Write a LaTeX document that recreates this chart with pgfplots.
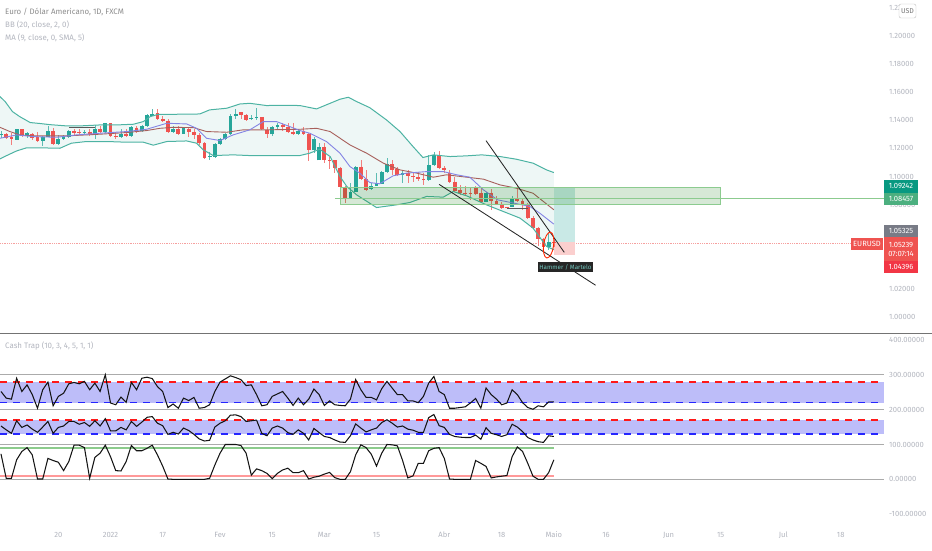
\documentclass[border=0pt]{standalone}
\usepackage{fontspec}
\setmainfont{Fira Sans}
\usepackage{pgfplots}
\usepackage{pgfplotstable}
\pgfplotsset{compat=1.18}

\definecolor{upc}{HTML}{26A69A}
\definecolor{downc}{HTML}{EF5350}
\definecolor{bbline}{HTML}{4DB3A3}
\definecolor{bbfill}{HTML}{EEF7F6}
\definecolor{basis}{HTML}{A8605C}
\definecolor{maline}{HTML}{8484E4}
\definecolor{txt}{HTML}{B2B5BE}
\definecolor{boxgreen}{HTML}{8CCB8F}
\definecolor{bandblue}{HTML}{BDBDF9}
\definecolor{hline}{HTML}{ABABAB}
\definecolor{HTMLteal}{HTML}{089981}
\definecolor{HTMLgreen}{HTML}{4CAF7F}
\definecolor{HTMLgrey}{HTML}{787B86}
\definecolor{HTMLbright}{HTML}{F23645}

% i open high low close
\pgfplotstableread{
i o h l c
0 1.1299 1.1327 1.1272 1.1303
1 1.1301 1.1313 1.1265 1.1277
2 1.1279 1.1308 1.1225 1.1265
3 1.1261 1.1341 1.1261 1.1336
4 1.1336 1.1341 1.1284 1.1291
5 1.1291 1.1320 1.1272 1.1313
6 1.1306 1.1313 1.1261 1.1277
7 1.1282 1.1320 1.1249 1.1256
8 1.1256 1.1289 1.1220 1.1282
9 1.1282 1.1360 1.1282 1.1325
10 1.1325 1.1348 1.1225 1.1232
11 1.1232 1.1294 1.1225 1.1270
12 1.1270 1.1294 1.1261 1.1282
13 1.1282 1.1332 1.1277 1.1322
14 1.1322 1.1341 1.1289 1.1313
15 1.1317 1.1336 1.1294 1.1313
16 1.1313 1.1332 1.1296 1.1320
17 1.1320 1.1336 1.1289 1.1301
18 1.1303 1.1367 1.1268 1.1336
19 1.1339 1.1360 1.1313 1.1317
20 1.1317 1.1384 1.1313 1.1379
21 1.1379 1.1384 1.1284 1.1291
22 1.1291 1.1320 1.1268 1.1279
23 1.1282 1.1336 1.1277 1.1306
24 1.1306 1.1336 1.1284 1.1289
25 1.1289 1.1360 1.1284 1.1355
26 1.1348 1.1360 1.1313 1.1322
27 1.1322 1.1365 1.1317 1.1360
28 1.1360 1.1445 1.1355 1.1436
29 1.1433 1.1479 1.1431 1.1448
30 1.1450 1.1479 1.1403 1.1407
31 1.1410 1.1431 1.1386 1.1396
32 1.1398 1.1407 1.1313 1.1320
33 1.1320 1.1360 1.1313 1.1336
34 1.1341 1.1360 1.1301 1.1306
35 1.1306 1.1351 1.1301 1.1343
36 1.1341 1.1355 1.1284 1.1320
37 1.1320 1.1336 1.1265 1.1296
38 1.1296 1.1308 1.1225 1.1237
39 1.1237 1.1242 1.1130 1.1135
40 1.1142 1.1177 1.1118 1.1147
41 1.1137 1.1237 1.1135 1.1230
42 1.1230 1.1277 1.1223 1.1265
43 1.1265 1.1313 1.1261 1.1299
44 1.1299 1.1443 1.1296 1.1431
45 1.1433 1.1479 1.1407 1.1448
46 1.1457 1.1462 1.1407 1.1436
47 1.1436 1.1445 1.1398 1.1405
48 1.1407 1.1438 1.1403 1.1417
49 1.1417 1.1490 1.1403 1.1422
50 1.1424 1.1426 1.1332 1.1336
51 1.1332 1.1351 1.1277 1.1299
52 1.1299 1.1360 1.1291 1.1353
53 1.1355 1.1379 1.1332 1.1367
54 1.1367 1.1384 1.1327 1.1355
55 1.1355 1.1379 1.1308 1.1315
56 1.1315 1.1384 1.1296 1.1306
57 1.1306 1.1336 1.1296 1.1322
58 1.1327 1.1351 1.1294 1.1299
59 1.1299 1.1308 1.1107 1.1189
60 1.1189 1.1284 1.1166 1.1268
61 1.1114 1.1237 1.1114 1.1213
62 1.1213 1.1237 1.1095 1.1114
63 1.1118 1.1142 1.1054 1.1109
64 1.1114 1.1118 1.1024 1.1061
65 1.1061 1.1066 1.0858 1.0924
66 1.0924 1.0929 1.0810 1.0846
67 1.0846 1.0952 1.0841 1.0893
68 1.0893 1.1076 1.0888 1.1071
69 1.1071 1.1118 1.0976 1.0981
70 1.0981 1.1047 1.0900 1.0907
71 1.0910 1.0952 1.0905 1.0933
72 1.0933 1.1024 1.0929 1.0952
73 1.0950 1.1040 1.0945 1.1031
74 1.1031 1.1130 1.1026 1.1090
75 1.1088 1.1118 1.1012 1.1047
76 1.1054 1.1071 1.1005 1.1012
77 1.1012 1.1047 1.0957 1.1024
78 1.1024 1.1047 1.0957 1.1000
79 1.1005 1.1028 1.0964 1.0995
80 1.0995 1.1035 1.0971 1.0981
81 1.0983 1.1024 1.0940 1.0976
82 1.0976 1.1154 1.0969 1.1083
83 1.1083 1.1175 1.1078 1.1154
84 1.1154 1.1182 1.1059 1.1064
85 1.1064 1.1076 1.1028 1.1045
86 1.1028 1.1047 1.0957 1.0964
87 1.0964 1.0995 1.0893 1.0900
88 1.0903 1.0940 1.0869 1.0886
89 1.0886 1.0929 1.0862 1.0874
90 1.0881 1.0917 1.0834 1.0877
91 1.0917 1.0929 1.0869 1.0877
92 1.0879 1.0917 1.0815 1.0822
93 1.0822 1.0893 1.0815 1.0884
94 1.0884 1.0910 1.0758 1.0827
95 1.0825 1.0858 1.0798 1.0806
96 1.0798 1.0822 1.0768 1.0777
97 1.0782 1.0782 1.0773 1.0777
98 1.0784 1.0858 1.0780 1.0846
99 1.0846 1.0929 1.0825 1.0829
100 1.0827 1.0846 1.0763 1.0796
101 1.0801 1.0810 1.0697 1.0704
102 1.0704 1.0716 1.0626 1.0633
103 1.0633 1.0640 1.0502 1.0554
104 1.0554 1.0561 1.0479 1.0495
105 1.0495 1.0597 1.0479 1.0535
106 1.0535 1.0554 1.0498 1.0526
}\candles

\pgfplotstableread{
i p
-0.2 1.1569
0.8 1.1533
2.2 1.1462
3.6 1.1426
5.6 1.1384
7.5 1.1377
9.4 1.1369
12.6 1.1360
15.1 1.1360
19 1.1367
22.2 1.1367
25.4 1.1372
27.3 1.1391
28.6 1.1426
30.2 1.1443
33.7 1.1443
38.1 1.1445
40 1.1474
43.3 1.1486
45.8 1.1516
47.7 1.1521
50.9 1.1505
54.1 1.1507
57.3 1.1505
60.5 1.1481
63.1 1.1521
65 1.1550
66.6 1.1564
68.2 1.1533
70.7 1.1490
73.9 1.1403
76.5 1.1320
79 1.1213
80.9 1.1135
82.9 1.1154
86.1 1.1142
89.3 1.1147
92.2 1.1154
95.7 1.1142
98.8 1.1123
102 1.1095
104.6 1.1047
106 1.1028
}\bbupper

\pgfplotstableread{
i p
-0.2 1.1125
1.1 1.1149
3 1.1182
4.9 1.1204
7.5 1.1204
11.3 1.1201
13.5 1.1237
16.4 1.1249
20.3 1.1249
24.1 1.1244
27.3 1.1244
29.2 1.1223
31.8 1.1249
35.6 1.1253
37.5 1.1237
38.8 1.1189
40.7 1.1149
44.5 1.1154
47.7 1.1149
50.9 1.1149
57.3 1.1149
59.2 1.1166
61.1 1.1194
63.1 1.1142
65 1.1000
66.3 1.0929
68.2 1.0869
72 1.0779
75.8 1.0798
78.4 1.0815
81.6 1.0858
84.8 1.0853
86.7 1.0893
89.3 1.0862
93.1 1.0798
96.3 1.0751
99.5 1.0704
102 1.0633
104.6 1.0502
106 1.0479
}\bblower

% outline of the band: upper edge forward, lower edge back
\pgfplotstableread{
i p
-0.2 1.1569
0.8 1.1533
2.2 1.1462
3.6 1.1426
5.6 1.1384
7.5 1.1377
9.4 1.1369
12.6 1.1360
15.1 1.1360
19 1.1367
22.2 1.1367
25.4 1.1372
27.3 1.1391
28.6 1.1426
30.2 1.1443
33.7 1.1443
38.1 1.1445
40 1.1474
43.3 1.1486
45.8 1.1516
47.7 1.1521
50.9 1.1505
54.1 1.1507
57.3 1.1505
60.5 1.1481
63.1 1.1521
65 1.1550
66.6 1.1564
68.2 1.1533
70.7 1.1490
73.9 1.1403
76.5 1.1320
79 1.1213
80.9 1.1135
82.9 1.1154
86.1 1.1142
89.3 1.1147
92.2 1.1154
95.7 1.1142
98.8 1.1123
102 1.1095
104.6 1.1047
106 1.1028
106 1.0479
104.6 1.0502
102 1.0633
99.5 1.0704
96.3 1.0751
93.1 1.0798
89.3 1.0862
86.7 1.0893
84.8 1.0853
81.6 1.0858
78.4 1.0815
75.8 1.0798
72 1.0779
68.2 1.0869
66.3 1.0929
65 1.1000
63.1 1.1142
61.1 1.1194
59.2 1.1166
57.3 1.1149
50.9 1.1149
47.7 1.1149
44.5 1.1154
40.7 1.1149
38.8 1.1189
37.5 1.1237
35.6 1.1253
31.8 1.1249
29.2 1.1223
27.3 1.1244
24.1 1.1244
20.3 1.1249
16.4 1.1249
13.5 1.1237
11.3 1.1201
7.5 1.1204
4.9 1.1204
3 1.1182
1.1 1.1149
-0.2 1.1125
}\bbband

\pgfplotstableread{
i p
-0.2 1.1350
1.7 1.1320
3.6 1.1296
6.2 1.1289
12.6 1.1289
19 1.1301
24.1 1.1313
27.9 1.1327
30.5 1.1343
33 1.1350
36.9 1.1348
39.4 1.1320
43.3 1.1315
46.4 1.1332
50.9 1.1332
57.3 1.1336
60.5 1.1343
63.1 1.1320
66.9 1.1225
70.1 1.1166
73.3 1.1095
76.5 1.1047
79.7 1.1024
82.9 1.0995
85.4 1.1012
89.3 1.0995
92.5 1.0981
95.7 1.0940
98.8 1.0917
102 1.0881
106 1.0763
}\bbbasis

\pgfplotstableread{
i p
-0.2 1.1272
3 1.1296
6.2 1.1284
10.7 1.1279
14.5 1.1296
19 1.1308
24.1 1.1320
27.9 1.1336
31.8 1.1379
35.6 1.1374
37.5 1.1343
39.4 1.1272
42 1.1256
44.5 1.1296
47.7 1.1332
50.3 1.1391
52.8 1.1391
55.4 1.1355
57.3 1.1327
59.2 1.1308
62.4 1.1249
65 1.1166
66.9 1.1071
68.8 1.1024
70.7 1.0957
72.6 1.0948
75.2 1.1005
77.8 1.1024
81.6 1.1035
84.8 1.1035
87.4 1.1012
89.9 1.0995
92.5 1.0905
95.2 1.0834
98.4 1.0810
101.4 1.0787
103.3 1.0739
106 1.0661
}\smaline

% Cash Trap, three stacked lines
\pgfplotstableread{
i a b d
0 252 153 73
1 233 142 3
2 230 132 3
3 290 168 56
4 252 149 80
5 271 156 91
6 243 144 70
7 204 135 1
8 257 150 1
9 279 166 60
10 211 132 54
11 238 149 49
12 247 153 25
13 274 166 51
14 278 166 98
15 274 158 98
16 281 163 91
17 257 152 3
18 276 168 63
19 252 153 75
20 300 174 98
21 219 139 65
22 214 139 25
23 236 149 24
24 221 142 51
25 278 166 97
26 257 152 82
27 290 164 82
28 293 178 89
29 289 180 98
30 266 161 70
31 252 154 38
32 206 129 1
33 216 135 0
34 204 130 0
35 233 147 0
36 226 140 0
37 235 129 0
38 204 116 0
39 206 110 0
40 214 112 3
41 252 150 41
42 279 161 75
43 288 168 100
44 297 184 100
45 292 185 100
46 286 180 97
47 269 166 75
48 271 168 12
49 243 170 30
50 211 132 25
51 214 125 17
52 238 147 2
53 245 153 17
54 252 147 27
55 233 134 32
56 212 129 19
57 233 142 19
58 214 132 25
59 230 113 1
60 259 146 6
61 243 134 9
62 212 123 15
63 225 120 20
64 214 113 5
65 212 107 0
66 211 106 0
67 230 125 22
68 286 159 70
69 257 147 99
70 235 136 91
71 235 142 72
72 228 147 38
73 260 163 75
74 281 171 100
75 262 161 99
76 243 150 96
77 243 153 54
78 225 144 4
79 225 141 10
80 220 135 46
81 238 135 46
82 276 177 82
83 295 186 89
84 252 154 91
85 243 149 60
86 204 129 1
87 204 123 0
88 206 121 0
89 208 120 0
90 219 120 0
91 232 127 54
92 204 115 46
93 262 148 37
94 243 132 4
95 230 128 7
96 214 123 9
97 219 128 11
98 257 158 65
99 243 150 93
100 220 137 80
101 206 120 46
102 201 113 9
103 211 108 0
104 208 106 0
105 222 125 19
106 222 123 56
}\cashtrap

\newcommand{\candleplot}[2]{%
  % wick
  \addplot[draw=none, forget plot, unbounded coords=discard,
    error bars/.cd, y dir=both, y explicit, error mark=none,
    error bar style={line width=0.6pt, #1!75!white}]
    table[x expr={#2 ? \thisrow{i} : nan}, y=c,
      y error plus expr={\thisrow{h}-\thisrow{c}},
      y error minus expr={\thisrow{c}-\thisrow{l}}] {\candles};
  % body
  \addplot[draw=none, forget plot, unbounded coords=discard,
    error bars/.cd, y dir=both, y explicit, error mark=none,
    error bar style={line width=3.8pt, #1}]
    table[x expr={#2 ? \thisrow{i} : nan}, y=o,
      y error plus expr={max(\thisrow{c}-\thisrow{o},0)},
      y error minus expr={max(\thisrow{o}-\thisrow{c},0)}] {\candles};
}

\pgfplotsset{
  chartpanel/.style={
    scale only axis, width=884pt, clip=true,
    xmin=-0.19, xmax=169.3,
    axis line style={draw=none}, tick style={draw=none},
    major tick length=0pt,
    yticklabel pos=right,
    y tick label style={anchor=west, inner sep=0pt, xshift=5pt, font=\fontsize{7.6}{8}\selectfont, text=txt},
    x tick label style={anchor=center, inner sep=0pt, font=\fontsize{7.6}{8}\selectfont, text=txt},
    /pgf/number format/fixed, /pgf/number format/fixed zerofill,
    /pgf/number format/precision=5, /pgf/number format/1000 sep={},
    /pgf/number format/assume math mode=true,
  },
}

\begin{document}
\begin{tikzpicture}
\useasboundingbox (0pt,0pt) rectangle (932pt,550pt);

% price panel
\begin{axis}[chartpanel, at={(0pt,217pt)}, anchor=south west, height=333pt,
    ymin=0.98861, ymax=1.22562, xtick=\empty,
    ytick={1.00,1.02,1.08,1.10,1.12,1.14,1.16,1.18,1.20,1.22}]
  \addplot[draw=none, fill=bbfill, forget plot] table[x=i,y=p] {\bbband} --cycle;

  % last price line
  \addplot[densely dotted, color=downc!55!white, line width=0.8pt] coordinates {(-0.19,1.05239) (169.3,1.05239)};

  % position tool
  \addplot[draw=none, fill=upc!25!white] coordinates {(106,1.05325) (110,1.05325) (110,1.09242) (106,1.09242)} --cycle;
  \addplot[draw=none, fill=downc!28!white] coordinates {(106,1.04396) (110,1.04396) (110,1.05325) (106,1.05325)} --cycle;

  \candleplot{upc}{\thisrow{c}>=\thisrow{o}}
  \candleplot{downc}{\thisrow{c}<\thisrow{o}}

  \addplot[bbline, line width=1pt] table[x=i,y=p] {\bbupper};
  \addplot[bbline, line width=1pt] table[x=i,y=p] {\bblower};
  \addplot[basis, line width=0.9pt] table[x=i,y=p] {\bbbasis};
  \addplot[maline, line width=0.9pt] table[x=i,y=p] {\smaline};

  % marked zone
  \addplot[draw=boxgreen, fill=green!45!black, fill opacity=0.16, line width=0.9pt] coordinates {(65,1.0801) (138,1.0801) (138,1.0924) (65,1.0924)} --cycle;
  \addplot[boxgreen, line width=1pt] coordinates {(64,1.08457) (169.3,1.08457)};

  % wedge and short marks
  \addplot[black!85, line width=0.85pt] coordinates {(93,1.1255) (108,1.0460)};
  \addplot[black!85, line width=0.85pt] coordinates {(84,1.0944) (114,1.0226)};
  \addplot[black!65, line width=0.8pt] coordinates {(13,1.1346) (18,1.1346)};
  \addplot[black!65, line width=0.8pt] coordinates {(97,1.0775) (101,1.0775)};

  \draw[red!70!orange, line width=0.9pt] (axis cs:105,1.0512) ellipse [x radius=5pt, y radius=13pt, rotate=-8];
\end{axis}

% oscillator panel
\begin{axis}[chartpanel, at={(0pt,25pt)}, anchor=south west, height=192pt,
    ymin=-131, ymax=419.8,
    ytick={-100,0,100,200,300,400},
    xtick={11,21,31,42,52,62,72,85,96,106,116,128,138,150,161},
    xticklabels={20,2022,17,Fev,15,Mar,15,Abr,18,Maio,16,Jun,15,Jul,18},
    x tick label style={yshift=-10pt}]
  \addplot[draw=none, fill=bandblue] coordinates {(-0.19,220) (169.3,220) (169.3,280) (-0.19,280)} --cycle;
  \addplot[draw=none, fill=bandblue] coordinates {(-0.19,130) (169.3,130) (169.3,170) (-0.19,170)} --cycle;

  \addplot[hline, line width=1pt] coordinates {(-0.19,300) (169.3,300)};
  \addplot[hline, line width=1pt] coordinates {(-0.19,200) (169.3,200)};
  \addplot[hline, line width=1pt] coordinates {(-0.19,100) (169.3,100)};
  \addplot[hline, line width=1pt] coordinates {(-0.19,0) (169.3,0)};

  \addplot[red!90!white, line width=1.7pt, dash pattern=on 6.5pt off 6.5pt] coordinates {(-0.19,280) (169.3,280)};
  \addplot[blue!85!white, line width=1.7pt, dash pattern=on 6.5pt off 6.5pt] coordinates {(-0.19,220) (169.3,220)};
  \addplot[red!90!white, line width=1.7pt, dash pattern=on 6.5pt off 6.5pt] coordinates {(-0.19,170) (169.3,170)};
  \addplot[blue!85!white, line width=1.7pt, dash pattern=on 6.5pt off 6.5pt] coordinates {(-0.19,130) (169.3,130)};

  \addplot[color=green!55!black!45!white, line width=1.3pt] coordinates {(-0.19,90) (106,90)};
  \addplot[color=red!40!white, line width=1.4pt] coordinates {(-0.19,10) (106,10)};

  \addplot[black!92, line width=1.05pt] table[x=i,y=a] {\cashtrap};
  \addplot[black!92, line width=1.05pt] table[x=i,y=b] {\cashtrap};
  \addplot[black!92, line width=1.05pt] table[x=i,y=d] {\cashtrap};
\end{axis}

% separator, legends and price tags, placed in picture points
\begin{scope}[x=1pt,y=1pt]
\draw[color=black!55!white, line width=1pt] (0,216.7) -- (932,216.7);

\tikzset{leg/.style={anchor=west, inner sep=0pt, text=txt, font=\fontsize{7.9}{9}\selectfont},
  tag/.style={anchor=center, inner sep=0pt, minimum width=34pt, text=white, font=\fontsize{7.6}{8}\selectfont}}
\node[leg, text=black!45!white] at (5,538) {Euro / Dólar Americano, 1D, FXCM};
\node[leg] at (5,525) {BB (20, close, 2, 0)};
\node[leg] at (5,512) {MA (9, close, 0, SMA, 5)};
\node[leg] at (5,204) {Cash Trap (10, 3, 4, 5, 1, 1)};

\node[draw=black!25, fill=white, rounded corners=2pt, inner sep=0pt, minimum width=17pt, minimum height=14pt, text=black!55!white, font=\fontsize{7}{8}\selectfont] at (907.5,539) {USD};

\node[tag, fill=HTMLteal, minimum height=12.5pt] at (901,363.7) {1.09242};
\node[tag, fill=HTMLgreen, minimum height=12.5pt] at (901,351.2) {1.08457};
\node[tag, fill=HTMLgrey, minimum height=12pt] at (901,319) {1.05325};
\node[tag, fill=downc, minimum height=23.5pt, align=center] at (901,301) {1.05239\\[1pt]07:07:14};
\node[tag, fill=HTMLbright, minimum height=12.5pt] at (901,283) {1.04396};
\node[tag, fill=downc, minimum width=32pt, minimum height=12pt] at (867,306) {EURUSD};

\node[fill=black!85, text=upc!65!white, inner sep=1pt, minimum width=53pt, minimum height=10pt, font=\fontsize{6.2}{7}\selectfont] at (565.5,283) {Hammer / Martelo};
\end{scope}
\end{tikzpicture}
\end{document}
